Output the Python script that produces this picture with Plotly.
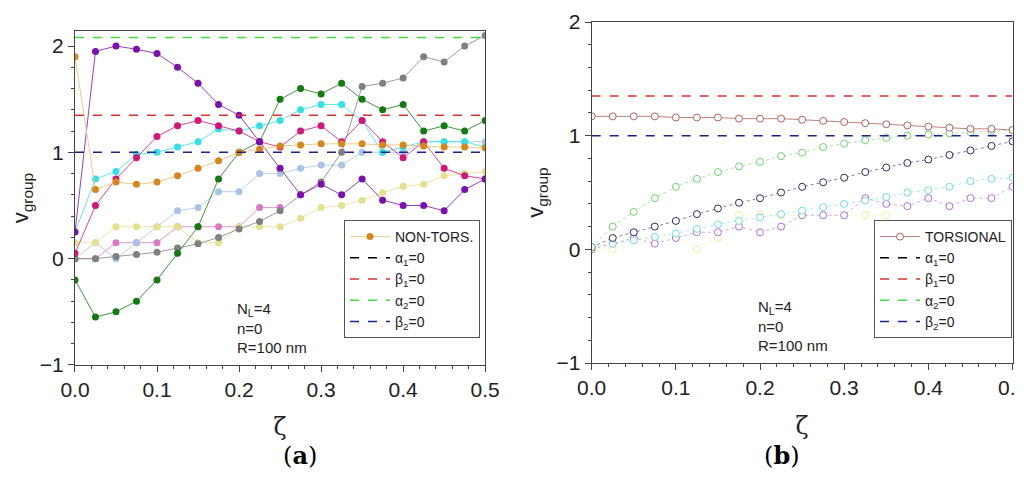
import plotly.graph_objects as go

# zeta samples
zeta = [i * 0.025 for i in range(21)]

# panel (a) NON-TORSIONAL branches
a_purple = [0.25, 1.95, 2.0, 1.97, 1.93, 1.8, 1.65, 1.45, 1.35, 1.1, 0.85, 0.6, 0.7, 0.6, 0.75, 0.55, 0.5, 0.5, 0.45, 0.65, 0.75]
a_orange = [1.9, 0.65, 0.72, 0.7, 0.72, 0.78, 0.85, 0.92, 1.0, 1.03, 1.06, 1.07, 1.08, 1.08, 1.08, 1.07, 1.07, 1.06, 1.05, 1.05, 1.04]
a_crimson = [0.05, 0.5, 0.75, 0.95, 1.15, 1.25, 1.3, 1.25, 1.2, 1.1, 1.05, 1.2, 1.25, 1.1, 1.3, 1.1, 0.95, 1.1, 0.85, 0.78, 0.75]
a_cyan = [0.25, 0.75, 0.82, 0.98, 1.0, 1.05, 1.1, 1.22, 1.2, 1.25, 1.3, 1.4, 1.45, 1.45, 1.3, 1.0, 1.05, 1.1, 1.1, 1.1, 1.05]
a_green = [-0.2, -0.55, -0.5, -0.4, -0.2, 0.05, 0.3, 0.75, 1.0, 1.1, 1.5, 1.6, 1.55, 1.65, 1.5, 1.4, 1.45, 1.2, 1.25, 1.2, 1.3]
a_gray = [0.0, 0.0, 0.02, 0.04, 0.06, 0.1, 0.14, 0.2, 0.28, 0.35, 0.45, 0.6, 0.72, 1.0, 1.62, 1.65, 1.7, 1.9, 1.85, 2.0, 2.1]
a_ltblue = [0.0, 0.15, 0.0, 0.15, 0.3, 0.45, 0.48, 0.63, 0.63, 0.8, 0.8, 0.85, 0.88, 0.88, 1.0, 1.0, 1.0, 1.1, 1.1, 1.1, 1.1]
a_pink = [0.0, 0.0, 0.15, 0.15, 0.15, 0.3, 0.3, 0.3, 0.3, 0.48, 0.48, None, None, None, None, None, None, None, None, None, None]
a_khaki = [0.15, 0.15, 0.3, 0.3, 0.3, 0.3, 0.15, 0.15, 0.3, 0.3, 0.3, 0.38, 0.48, 0.5, 0.55, 0.62, 0.68, 0.7, 0.78, 0.8, 0.82]

# panel (b) TORSIONAL branches
b_brown = [1.17, 1.17, 1.17, 1.17, 1.16, 1.16, 1.16, 1.15, 1.15, 1.15, 1.14, 1.13, 1.12, 1.11, 1.1, 1.09, 1.08, 1.07, 1.06, 1.06, 1.05]
b_green = [0.02, 0.2, 0.33, 0.45, 0.55, 0.62, 0.68, 0.73, 0.77, 0.82, 0.85, 0.9, 0.93, 0.96, 0.98, 1.0, 1.01, 1.02, 1.03, 1.04, 1.05]
b_navy = [0.02, 0.1, 0.15, 0.2, 0.25, 0.31, 0.36, 0.41, 0.45, 0.5, 0.55, 0.59, 0.63, 0.68, 0.72, 0.76, 0.79, 0.83, 0.87, 0.91, 0.95]
b_cyan = [0.02, 0.05, 0.08, 0.11, 0.14, 0.18, 0.22, 0.25, 0.28, 0.31, 0.34, 0.37, 0.4, 0.43, 0.46, 0.5, 0.52, 0.55, 0.6, 0.62, 0.63]
b_violet = [0.0, 0.05, 0.1, 0.05, 0.1, 0.15, 0.15, 0.2, 0.15, 0.2, 0.3, 0.3, 0.3, 0.45, 0.4, 0.38, 0.45, 0.38, 0.45, 0.45, 0.55]
b_yellow = [0.0, 0.0, 0.1, 0.1, 0.1, 0.0, 0.1, 0.3, 0.3, 0.3, 0.3, 0.3, 0.3, 0.3, 0.3, None, None, None, None, None, None]

# cut-off levels
lim_x = [0.0, 0.5]
beta1 = 1.35
alpha2 = 2.08
beta2 = 1.0

FONT = "Liberation Sans, Arial, sans-serif"
fig = go.Figure()

a_series = [(a_pink, '#d87ac0'), (a_ltblue, '#a9c4e6'), (a_khaki, '#e3e08e'), (a_gray, '#808080'),
            (a_green, '#137a13'), (a_cyan, '#33e0e6'), (a_crimson, '#d4157a'), (a_purple, '#7b0fb0')]
for ys, c in a_series:
    fig.add_trace(go.Scatter(x=zeta, y=ys, mode='lines+markers', showlegend=False,
                             line=dict(color=c, width=0.8), marker=dict(color=c, size=7),
                             xaxis='x', yaxis='y'))
fig.add_trace(go.Scatter(x=zeta, y=a_orange, mode='lines+markers', name='NON-TORS.',
                         line=dict(color='#f0c890', width=1), marker=dict(color='#d8861a', size=7),
                         xaxis='x', yaxis='y', legend='legend'))

b_series = [(b_yellow, '#f2ee9a'), (b_violet, '#b070d8'), (b_cyan, '#70dde0'),
            (b_navy, '#2a2a60'), (b_green, '#70d070')]
for ys, c in b_series:
    fig.add_trace(go.Scatter(x=zeta, y=ys, mode='lines+markers', showlegend=False,
                             line=dict(color=c, width=0.6, dash='dot'),
                             marker=dict(color='white', size=7, line=dict(color=c, width=1)),
                             xaxis='x2', yaxis='y2'))
fig.add_trace(go.Scatter(x=zeta, y=b_brown, mode='lines+markers', name='TORSIONAL',
                         line=dict(color='#b06060', width=0.8),
                         marker=dict(color='white', size=7, line=dict(color='#b06060', width=1)),
                         xaxis='x2', yaxis='y2', legend='legend2'))

levels = [('α<sub>1</sub>=0', None, 'black'), ('β<sub>1</sub>=0', beta1, '#dd3030'),
          ('α<sub>2</sub>=0', alpha2, '#40dd40'), ('β<sub>2</sub>=0', beta2, '#202090')]
for ax, lg in [(('x', 'y'), 'legend'), (('x2', 'y2'), 'legend2')]:
    for name, v, c in levels:
        if ax[0] == 'x2' and v == alpha2:
            v = None
        fig.add_trace(go.Scatter(x=lim_x, y=[v, v], mode='lines', name=name,
                                 line=dict(color=c, width=1.5, dash='dash'),
                                 xaxis=ax[0], yaxis=ax[1], legend=lg))

axis_common = dict(showline=True, linecolor='#444', mirror=True, ticks='outside', ticklen=6,
                   tickcolor='#444', showgrid=False, zeroline=False, automargin=False,
                   tickfont=dict(size=21, family=FONT, color='#222'),
                   minor=dict(ticks='outside', ticklen=3, tickcolor='#444'))
xax = dict(axis_common, range=[0, 0.5], dtick=0.1, tickformat='.1f', tickangle=0,
           title=dict(text='ζ', font=dict(size=24, family='DejaVu Serif', color='#222'), standoff=18))

legend_common = dict(bgcolor='white', bordercolor='#555', borderwidth=1,
                     font=dict(size=14, family=FONT, color='#222'), tracegroupgap=0,
                     xanchor='right', yanchor='bottom', itemwidth=40)

fig.update_layout(
    width=1024, height=483, margin=dict(l=0, r=0, t=0, b=0, autoexpand=False),
    plot_bgcolor='white', paper_bgcolor='white',
    xaxis=dict(xax, domain=[0.0654, 0.466], anchor='y'),
    yaxis=dict(axis_common, domain=[0.261, 0.952], range=[-1, 2.14], dtick=1, anchor='x',
               title=dict(text='v<sub>group</sub>', font=dict(size=22, family=FONT, color='#222'), standoff=6)),
    xaxis2=dict(xax, domain=[0.570, 0.981], anchor='y2'),
    yaxis2=dict(axis_common, domain=[0.265, 0.971], range=[-1, 2], dtick=1, anchor='x2',
                title=dict(text='v<sub>group</sub>', font=dict(size=22, family=FONT, color='#222'), standoff=6)),
    legend=dict(legend_common, x=472 / 1024, y=1 - 330 / 483),
    legend2=dict(legend_common, x=1004 / 1024, y=1 - 330 / 483),
)

for xr, yr in [('x domain', 'y domain'), ('x2 domain', 'y2 domain')]:
    fig.add_annotation(xref=xr, yref=yr, x=0.39, y=0.02, xanchor='left', yanchor='bottom',
                       align='left', showarrow=False,
                       text='N<sub>L</sub>=4<br>n=0<br>R=100 nm',
                       font=dict(size=15, family=FONT, color='#222'))

fig.add_annotation(xref='paper', yref='paper', x=0.267, y=0.04, showarrow=False,
                   text='(<b>a</b>)', font=dict(size=24, family='DejaVu Serif', color='black'))
fig.add_annotation(xref='paper', yref='paper', x=0.775, y=0.04, showarrow=False,
                   text='(<b>b</b>)', font=dict(size=24, family='DejaVu Serif', color='black'))

fig.write_html("out.html")
